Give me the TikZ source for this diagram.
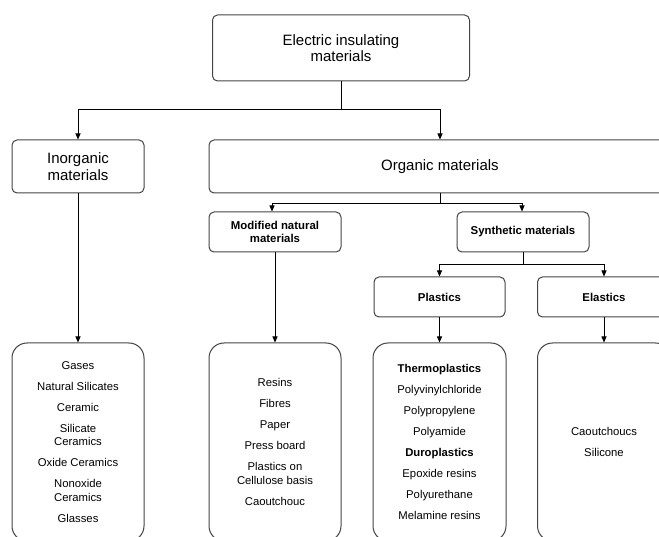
\documentclass[tikz,border=0pt]{standalone}
\usepackage{fontspec}
\setmainfont{Liberation Sans}
\usetikzlibrary{arrows.meta}
\definecolor{boxgray}{HTML}{444444}
\tikzset{
  box/.style={draw=boxgray, line width=1pt, rounded corners=5pt, inner sep=0pt, align=center, text=black},
  bigfont/.style={font=\fontsize{15}{16.5}\selectfont},
  boldfont/.style={font=\fontsize{11.4}{13.3}\selectfont\bfseries},
  listbox/.style={draw=boxgray, line width=1pt, rounded corners=15pt, inner sep=0pt, align=center,
    minimum height=198pt, font=\fontsize{11.3}{13.5}\selectfont},
  conn/.style={line width=0.8pt, draw=black},
  arr/.style={conn, -{Triangle[length=6pt,width=5pt]}},
}
\begin{document}
\begin{tikzpicture}[x=1pt,y=-1pt]
\useasboundingbox (0,0) rectangle (659,537);
\fill[white] (0,0) rectangle (659,537);
\clip (0,0) rectangle (659,537);

% top level
\node[box,bigfont,minimum width=257pt,minimum height=66pt] (top) at (341,48) {Electric insulating\\materials};
\node[box,bigfont,minimum width=132pt,minimum height=53pt] (inorg) at (78,166.5) {Inorganic\\materials};
\node[box,bigfont,minimum width=462pt,minimum height=53pt] (org) at (440,166.5) {Organic materials};

% second level
\node[box,boldfont,minimum width=132pt,minimum height=40pt] (mod) at (275,232) {Modified natural\\materials};
\node[box,boldfont,minimum width=132pt,minimum height=40pt] (syn) at (523,232) {Synthetic materials};
\node[box,boldfont,minimum width=131pt,minimum height=40pt] (pla) at (439.5,297) {Plastics};
\node[box,boldfont,minimum width=133pt,minimum height=40pt] (ela) at (604,297) {Elastics};

% lists
\node[listbox,minimum width=132pt] (inlist) at (78,442) {Gases\\[7.5pt]Natural Silicates\\[7.5pt]Ceramic\\[7.5pt]Silicate\\Ceramics\\[7.5pt]Oxide Ceramics\\[7.5pt]Nonoxide\\Ceramics\\[7.5pt]Glasses};
\node[listbox,minimum width=132pt] (modlist) at (275,442) {Resins\\[7.5pt]Fibres\\[7.5pt]Paper\\[7.5pt]Press board\\[7.5pt]Plastics on\\Cellulose basis\\[7.5pt]Caoutchouc};
\node[listbox,minimum width=133pt] (plalist) at (439.5,442) {\textbf{Thermoplastics}\\[7.5pt]Polyvinylchloride\\[7.5pt]Polypropylene\\[7.5pt]Polyamide\\[7.5pt]\textbf{Duroplastics}\\[7.5pt]Epoxide resins\\[7.5pt]Polyurethane\\[7.5pt]Melamine resins};
\node[listbox,minimum width=133pt] (elalist) at (604,442) {Caoutchoucs\\[7.5pt]Silicone};

% connectors
\coordinate (j1) at (341,109);
\draw[conn] (top.south) -- (j1);
\draw[arr] (j1) -| (inorg.north);
\draw[arr] (j1) -| (org.north);
\draw[arr] (inorg.south) -- (inlist.north);

\coordinate (j2) at (440,203);
\draw[conn] (org.south) -- (j2);
\draw[arr] (j2) -| ([xshift=-3pt]mod.north);
\draw[arr] (j2) -| ([xshift=-1pt]syn.north);
\draw[arr] (mod.south) -- (modlist.north);

\coordinate (j3) at (523,264);
\draw[conn] (syn.south) -- (j3);
\draw[arr] (j3) -| (pla.north);
\draw[arr] (j3) -| (ela.north);
\draw[arr] (pla.south) -- (plalist.north);
\draw[arr] (ela.south) -- (elalist.north);
\end{tikzpicture}
\end{document}
